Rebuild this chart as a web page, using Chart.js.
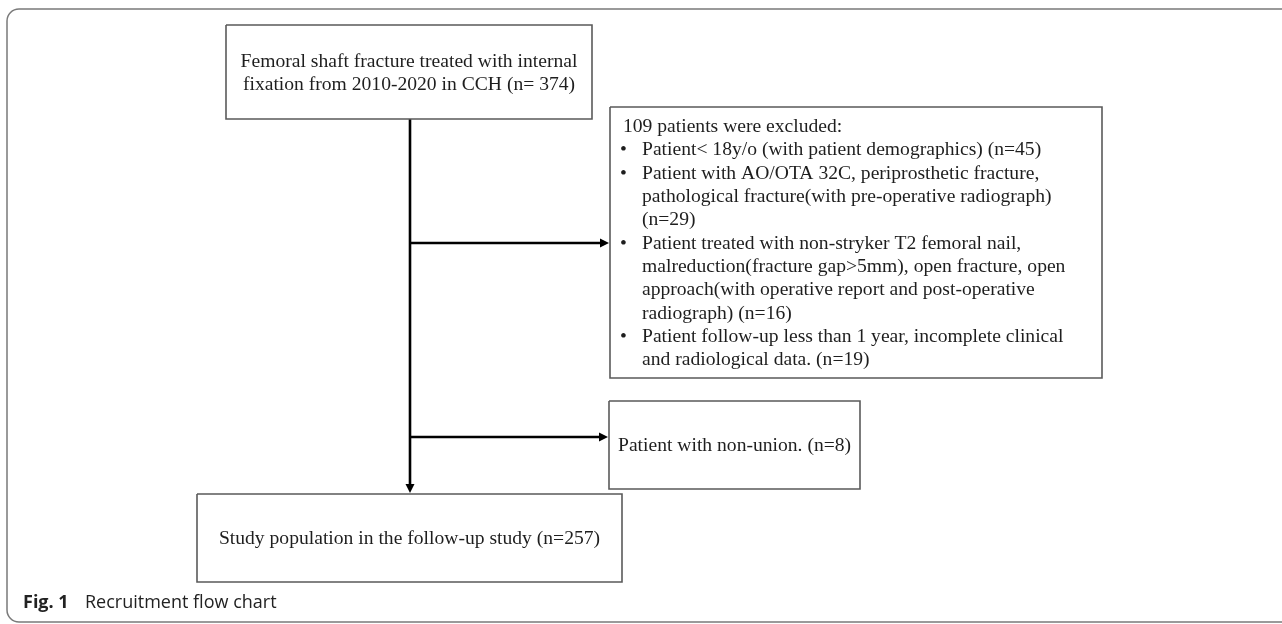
<!DOCTYPE html>
<html>
<head>
<meta charset="utf-8">
<script src="https://cdn.jsdelivr.net/npm/chart.js@4.4.1/dist/chart.umd.min.js"></script>
<style>
  html, body { margin: 0; padding: 0; background: #ffffff; }
  #wrap { width: 1282px; height: 624px; position: relative; }
  canvas { display: block; }
</style>
</head>
<body>
<div id="wrap"><canvas id="c" width="1282" height="624"></canvas></div>
<script>
// ---------- DATA ----------
const totalCount = 374;
const excludedCount = 109;
const excludedCounts = [45, 29, 16, 19];
const nonUnionCount = 8;
const finalCount = 257;

const topBoxLines = [
  "Femoral shaft fracture treated with internal",
  "fixation from 2010-2020 in CCH (n= " + totalCount + ")"
];
const excludedHeader = excludedCount + " patients were excluded:";
const excludedItems = [
  ["Patient< 18y/o (with patient demographics) (n=" + excludedCounts[0] + ")"],
  ["Patient with AO/OTA 32C, periprosthetic fracture,",
   "pathological fracture(with pre-operative radiograph)",
   "(n=" + excludedCounts[1] + ")"],
  ["Patient treated with non-stryker T2 femoral nail,",
   "malreduction(fracture gap>5mm), open fracture, open",
   "approach(with operative report and post-operative",
   "radiograph) (n=" + excludedCounts[2] + ")"],
  ["Patient follow-up less than 1 year, incomplete clinical",
   "and radiological data. (n=" + excludedCounts[3] + ")"]
];
const nonUnionText = "Patient with non-union. (n=" + nonUnionCount + ")";
const finalText = "Study population in the follow-up study (n=" + finalCount + ")";
const captionLabel = "Fig. 1";
const captionText = "Recruitment flow chart";

// ---------- LAYOUT (positions in scale units) ----------
const layout = {
  top:      { x0: 226, y0: 25,  x1: 592,  y1: 119 },
  excl:     { x0: 610, y0: 107, x1: 1102, y1: 378 },
  nonunion: { x0: 609, y0: 401, x1: 860,  y1: 489 },
  final:    { x0: 197, y0: 494, x1: 622,  y1: 582 },
  trunkX: 410,
  branchY: [243, 437],
  topTextY: [62, 85],
  exclTextX: 623, exclBulletX: 620, exclItemX: 642,
  exclTextY0: 127, exclLineH: 23.3,
  nonunionTextX: 618, nonunionTextY: 446,
  finalTextY: 539
};

function boxData(b) {
  return [{x:b.x0,y:b.y0},{x:b.x1,y:b.y0},{x:b.x1,y:b.y1},{x:b.x0,y:b.y1},{x:b.x0,y:b.y0}];
}
const boxStyle = { borderColor: '#5a5a5a', borderWidth: 1.6, pointRadius: 0, showLine: true, fill: false, tension: 0 };
const lineStyle = { borderColor: '#000000', borderWidth: 2.6, pointRadius: 0, showLine: true, fill: false, tension: 0 };

const datasets = [
  Object.assign({ data: boxData(layout.top) }, boxStyle),
  Object.assign({ data: boxData(layout.excl) }, boxStyle),
  Object.assign({ data: boxData(layout.nonunion) }, boxStyle),
  Object.assign({ data: boxData(layout.final) }, boxStyle),
  Object.assign({ data: [{x:layout.trunkX,y:layout.top.y1},{x:layout.trunkX,y:layout.final.y0-7}] }, lineStyle),
  Object.assign({ data: [{x:layout.trunkX,y:layout.branchY[0]},{x:layout.excl.x0-8,y:layout.branchY[0]}] }, lineStyle),
  Object.assign({ data: [{x:layout.trunkX,y:layout.branchY[1]},{x:layout.nonunion.x0-8,y:layout.branchY[1]}] }, lineStyle)
];

const serif = '19.6px "Liberation Serif", "Times New Roman", serif';
const textColor = '#1e1e1e';

const flowPlugin = {
  id: 'flow',
  afterDatasetsDraw(chart) {
    const ctx = chart.ctx;
    const xs = chart.scales.x, ys = chart.scales.y;
    const X = v => xs.getPixelForValue(v), Y = v => ys.getPixelForValue(v);
    ctx.save();
    // arrowheads
    ctx.fillStyle = '#000';
    function arrow(tx, ty, dir) {
      const L = 9, W = 4.5;
      ctx.beginPath();
      if (dir === 'right') {
        ctx.moveTo(X(tx), Y(ty)); ctx.lineTo(X(tx) - L, Y(ty) - W); ctx.lineTo(X(tx) - L, Y(ty) + W);
      } else {
        ctx.moveTo(X(tx), Y(ty)); ctx.lineTo(X(tx) - W, Y(ty) - L); ctx.lineTo(X(tx) + W, Y(ty) - L);
      }
      ctx.closePath(); ctx.fill();
    }
    arrow(layout.excl.x0 - 1, layout.branchY[0], 'right');
    arrow(layout.nonunion.x0 - 1, layout.branchY[1], 'right');
    arrow(layout.trunkX, layout.final.y0 - 1, 'down');

    // texts
    ctx.font = serif;
    ctx.fillStyle = textColor;
    ctx.textBaseline = 'middle';
    ctx.textAlign = 'center';
    const topCx = (layout.top.x0 + layout.top.x1) / 2;
    topBoxLines.forEach((t, i) => ctx.fillText(t, X(topCx), Y(layout.topTextY[i])));
    const finCx = (layout.final.x0 + layout.final.x1) / 2;
    ctx.fillText(finalText, X(finCx), Y(layout.finalTextY));

    ctx.textAlign = 'left';
    ctx.fillText(nonUnionText, X(layout.nonunionTextX), Y(layout.nonunionTextY));
    ctx.fillText(excludedHeader, X(layout.exclTextX), Y(layout.exclTextY0));
    let row = 1;
    excludedItems.forEach(item => {
      item.forEach((ln, j) => {
        const yy = Y(layout.exclTextY0 + row * layout.exclLineH);
        if (j === 0) ctx.fillText('\u2022', X(layout.exclBulletX), yy);
        ctx.fillText(ln, X(layout.exclItemX), yy);
        row++;
      });
    });

    // figure frame
    ctx.strokeStyle = '#7a7a7a';
    ctx.lineWidth = 1.5;
    const fx0 = 7, fy0 = 9, fx1 = 1292, fy1 = 622, r = 12;
    ctx.beginPath();
    ctx.moveTo(X(fx0 + r), Y(fy0));
    ctx.lineTo(X(fx1), Y(fy0));
    ctx.lineTo(X(fx1), Y(fy1));
    ctx.lineTo(X(fx0 + r), Y(fy1));
    ctx.arcTo(X(fx0), Y(fy1), X(fx0), Y(fy1 - r), r);
    ctx.lineTo(X(fx0), Y(fy0 + r));
    ctx.arcTo(X(fx0), Y(fy0), X(fx0 + r), Y(fy0), r);
    ctx.stroke();

    // caption
    ctx.fillStyle = '#222';
    ctx.font = 'bold 18px "Open Sans", "Noto Sans", sans-serif';
    ctx.fillText(captionLabel, X(23), Y(603));
    ctx.font = '18px "Open Sans", "Noto Sans", sans-serif';
    ctx.fillText(captionText, X(85), Y(603));
    ctx.restore();
  }
};

new Chart(document.getElementById('c'), {
  type: 'scatter',
  data: { datasets },
  options: {
    responsive: false,
    devicePixelRatio: 1,
    animation: false,
    layout: { padding: 0 },
    plugins: { legend: { display: false }, tooltip: { enabled: false } },
    scales: {
      x: { type: 'linear', min: 0, max: 1282, display: false },
      y: { type: 'linear', min: 0, max: 624, reverse: true, display: false }
    }
  },
  plugins: [flowPlugin]
});
</script>
</body>
</html>
